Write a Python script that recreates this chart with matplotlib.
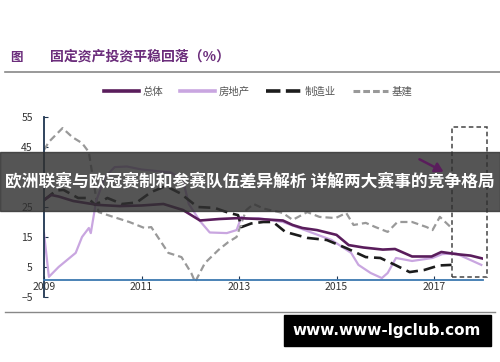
import matplotlib.pyplot as plt
from matplotlib.patches import Rectangle, FancyArrowPatch
from matplotlib.lines import Line2D

plt.rcParams['font.family'] = ['Noto Sans CJK SC', 'DejaVu Sans']

# data (decimal year, %)
total_x = [2009.0, 2009.15, 2009.3, 2009.6, 2010.1, 2010.55, 2011.0, 2011.45, 2011.85,
           2012.2, 2012.6, 2013.0, 2013.4, 2013.9, 2014.1, 2014.3, 2014.6, 2015.0,
           2015.25, 2015.55, 2015.95, 2016.2, 2016.55, 2016.95, 2017.15, 2017.45,
           2017.75, 2018.0]
total_y = [27.3, 29, 28.5, 27, 25.7, 25.3, 25.5, 26, 24,
           20.5, 21, 21.3, 21, 20.5, 19, 18, 17.3, 15.7,
           12.3, 11.5, 10.8, 11, 8.5, 8.5, 10, 9.3,
           8.8, 7.8]

estate_x = [2009.0, 2009.1, 2009.3, 2009.65, 2009.78, 2009.92, 2009.96, 2010.07, 2010.25,
            2010.45, 2010.7, 2011.0, 2011.3, 2011.6, 2011.85, 2011.97, 2012.2, 2012.4,
            2012.75, 2012.95, 2013.05, 2013.15, 2013.4, 2013.9, 2014.45, 2014.9, 2015.3,
            2015.45, 2015.7, 2015.93, 2016.05, 2016.22, 2016.55, 2016.97, 2017.17, 2017.45,
            2017.97]
estate_y = [16.3, 1.7, 5, 9.7, 15, 18, 16.3, 27, 35,
            38.3, 38.5, 37.5, 37, 36.5, 34, 26, 20.3, 16.5,
            16.3, 17.3, 21.7, 21, 21.3, 20, 16.7, 14, 9.7,
            5.7, 3, 1.3, 3, 8, 7, 8, 9.3, 9.5,
            5.7]

manu_x = [2009.0, 2009.25, 2009.4, 2009.7, 2009.9, 2010.05, 2010.3, 2010.6, 2010.9,
          2011.2, 2011.5, 2011.8, 2012.15, 2012.5, 2012.8, 2012.98, 2013.05, 2013.25,
          2013.5, 2013.7, 2013.95, 2014.4, 2014.8, 2015.2, 2015.6, 2015.9, 2016.2,
          2016.5, 2016.8, 2017.1, 2017.36]
manu_y = [27.3, 30.5, 30.7, 28, 28, 25.7, 28, 26, 26.5,
          30, 32, 29.5, 25, 24.7, 23, 22.3, 18.3, 19.5,
          20, 20, 16.7, 14.7, 14, 11.3, 8.3, 8, 5.7,
          3.3, 4, 5.5, 5.7]

infra_x = [2009.0, 2009.1, 2009.38, 2009.58, 2009.78, 2009.92, 2010.0, 2010.07, 2010.12,
           2010.42, 2010.75, 2011.06, 2011.2, 2011.55, 2011.82, 2012.02, 2012.1, 2012.3,
           2012.58, 2012.78, 2012.95, 2013.05, 2013.15, 2013.3, 2013.5, 2013.9, 2014.1,
           2014.4, 2014.65, 2014.98, 2015.2, 2015.35, 2015.6, 2015.8, 2016.05, 2016.25,
           2016.55, 2016.85, 2016.97, 2017.12, 2017.25, 2017.36]
infra_y = [44, 46.7, 51.3, 48.3, 46.3, 43.3, 35, 28, 23.3,
           21.7, 20, 18, 18.3, 9.7, 8.3, 3, 0, 6.3,
           10.7, 13.3, 15, 19.7, 24, 26, 24.5, 23, 20.7,
           23.3, 21.7, 21.3, 23, 19, 19.7, 18.3, 16.7, 20,
           20, 18.3, 17.3, 21.7, 19.7, 18]

labels = ['总体', '房地产', '制造业', '基建']
years = [2009, 2011, 2013, 2015, 2017]
# 35 sits under the banner in the picture, so its label is left out
yticks = [-5, 5, 15, 25, 45, 55]

c_total = '#5a1d5c'
c_estate = '#c9a6e0'
c_manu = '#1c1c1c'
c_infra = '#999999'

fig = plt.figure(figsize=(5, 3.62), dpi=100)
ax = fig.add_axes([0.088, 0.1796, 0.8775, 0.4972])

ax.plot(infra_x, infra_y, color=c_infra, lw=1.6, ls=(0, (3.2, 1.8)))
ax.plot(estate_x, estate_y, color=c_estate, lw=1.6)
ax.plot(manu_x, manu_y, color=c_manu, lw=1.9, ls=(0, (4.5, 2.2)))
ax.plot(total_x, total_y, color=c_total, lw=1.9)

ax.add_patch(Rectangle((2017.36, 1.7), 0.72, 50, fill=False, ec='#444444',
                       lw=1.1, ls=(0, (3, 2)), clip_on=False))

ax.set_xlim(2009, 2018.0)
ax.set_ylim(-5, 55)
ax.set_xticks(years)
ax.set_yticks(yticks)
for s in ['top', 'right']:
    ax.spines[s].set_visible(False)
ax.spines['bottom'].set_position(('data', 0.5))
ax.spines['bottom'].set_color('#3b78b0')
ax.spines['bottom'].set_linewidth(1.3)
ax.spines['left'].set_color('#1f3550')
ax.spines['left'].set_linewidth(1.3)
ax.tick_params(axis='x', direction='in', length=3, pad=1, labelsize=7.5,
               labelcolor='#333333', color='#1f3550')
ax.tick_params(axis='y', direction='in', length=3, pad=8, labelsize=7.5,
               labelcolor='#333333', color='#1f3550')
ax.patch.set_alpha(0)

handles = [Line2D([], [], color=c_total, lw=2.6),
           Line2D([], [], color=c_estate, lw=2.6),
           Line2D([], [], color=c_manu, lw=2.6, ls=(0, (4, 1.5))),
           Line2D([], [], color=c_infra, lw=2.2, ls=(0, (2.2, 1)))]
leg = fig.legend(handles, labels, loc='center', bbox_to_anchor=(0.516, 1 - 92 / 362),
                 ncol=4, frameon=False, fontsize=7.5, handlelength=3.4,
                 columnspacing=1.6, handletextpad=0.3)
for t in leg.get_texts():
    t.set_color('#555555')

# title and rules
fig.text(0.02, 1 - 57 / 362, '图', fontsize=9, color='#6b2d7b', fontweight='bold', va='center')
fig.text(0.1, 1 - 57 / 362, '固定资产投资平稳回落（%）', fontsize=10, color='#6b2d7b',
         fontweight='bold', va='center')
fig.add_artist(Line2D([0.01, 1.0], [1 - 72 / 362] * 2, color='#888888', lw=1.2))
fig.add_artist(Line2D([0.01, 0.99], [1 - 312 / 362] * 2, color='#888888', lw=1.0))

# arrow
fig.add_artist(FancyArrowPatch((417 / 500, 1 - 158 / 362), (446 / 500, 1 - 173 / 362),
                               arrowstyle='-|>,head_length=5,head_width=3', color=c_total,
                               lw=1.8, zorder=3))

# banner overlay
fig.patches.append(Rectangle((0, 1 - 211 / 362), 1, 59 / 362, transform=fig.transFigure,
                             color='#303030', alpha=0.82, zorder=2))
fig.text(0.5, 1 - 181 / 362, '欧洲联赛与欧冠赛制和参赛队伍差异解析 详解两大赛事的竞争格局',
         fontsize=12.1, color='white', fontweight='bold', ha='center', va='center', zorder=4)

# watermark box
fig.patches.append(Rectangle((284 / 500, 1 - 346 / 362), 207 / 500, 31 / 362,
                             transform=fig.transFigure, color='black', zorder=2))
fig.text(387 / 500, 1 - 331 / 362, 'www.www-lgclub.com', fontsize=11, color='white',
         fontweight='bold', family='DejaVu Sans', ha='center', va='center', zorder=4)

fig.savefig('out.png', dpi=100)
